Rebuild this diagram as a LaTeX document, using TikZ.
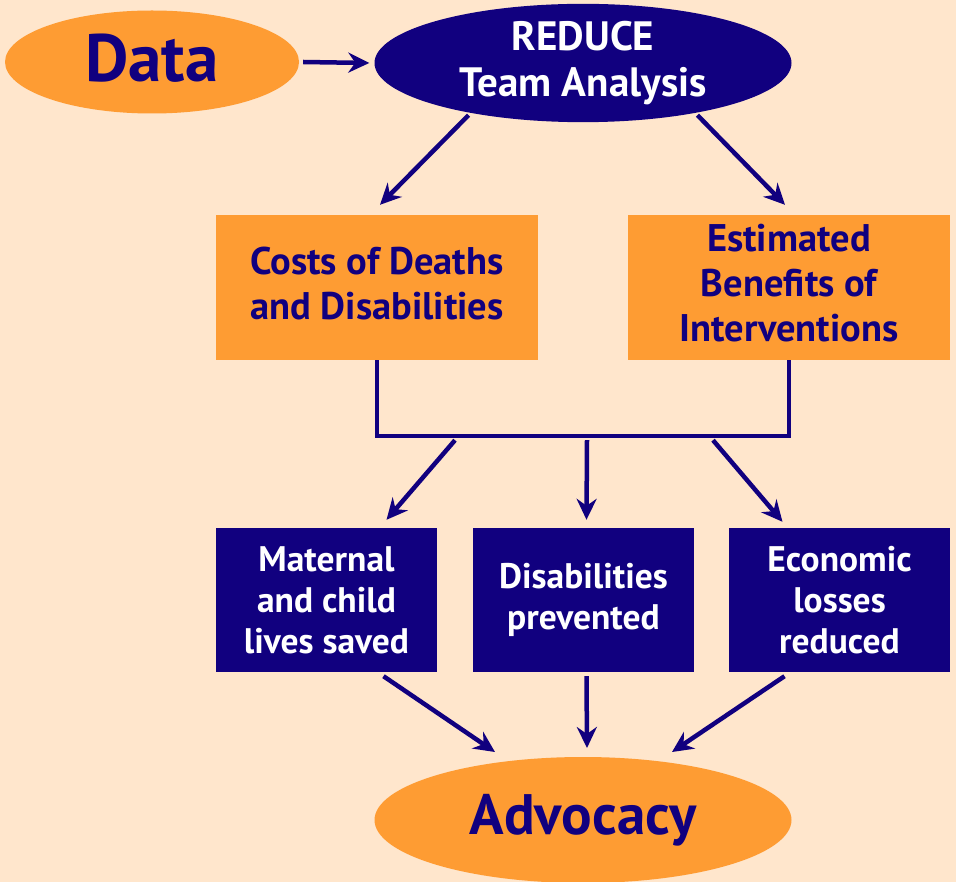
\documentclass[tikz,border=0pt]{standalone}
\usepackage{fontspec}
\setmainfont{PT Sans}
\usetikzlibrary{arrows.meta,shapes.geometric,calc}
\definecolor{bg}{HTML}{FFE6CC}
\definecolor{org}{HTML}{FE9C33}
\definecolor{navy}{HTML}{11007F}
\begin{document}
\begin{tikzpicture}[x=1pt,y=-1pt,
  arr/.style={draw=navy, line width=4.5pt, -{Stealth[length=21pt,width=20pt,inset=7pt]}},
  link/.style={draw=navy, line width=4.5pt},
  oell/.style={ellipse, fill=org, text=navy, inner sep=0pt, align=center},
  nell/.style={ellipse, fill=navy, text=white, inner sep=0pt, align=center},
  obox/.style={rectangle, fill=org, text=navy, inner sep=0pt, align=center,
    minimum width=322pt, minimum height=145pt, text depth=9pt, font=\fontsize{38.5}{45}\selectfont\bfseries},
  nbox/.style={rectangle, fill=navy, text=white, inner sep=0pt, align=center,
    minimum width=221pt, minimum height=144pt, font=\fontsize{35.5}{41}\selectfont\bfseries}
]
\fill[bg] (0,0) rectangle (956,882);
\useasboundingbox (0,0) rectangle (956,882);

\node[oell, minimum width=294pt, minimum height=103pt, text depth=9pt, font=\fontsize{67}{67}\selectfont\bfseries] (data) at (152,62) {Data};
\node[nell, minimum width=417pt, minimum height=113pt, font=\fontsize{41}{46}\selectfont\bfseries] (reduce) at (583,63) {REDUCE\\Team Analysis};

\node[obox] (costs) at (377,287.5) {Costs of Deaths\\and Disabilities};
\node[obox] (est) at (789,287.5) {Estimated\\Benefits of\\Interventions};

\node[nbox] (mat) at (326.5,600) {Maternal\\and child\\lives saved};
\node[nbox] (dis) at (583.5,600) {Disabilities\\prevented};
\node[nbox] (eco) at (839.5,600) {Economic\\losses\\reduced};

\node[oell, minimum width=417pt, minimum height=126pt, font=\fontsize{57}{57}\selectfont\bfseries] (adv) at (583,820) {Advocacy};

\draw[arr] ([xshift=4pt]data.east) -- ([xshift=-5pt]reduce.west);
\draw[arr, shorten <=3pt] (reduce.204) -- ([xshift=3pt,yshift=10pt]costs.north);
\draw[arr, shorten <=3pt] (reduce.336) -- ([xshift=-4pt,yshift=10pt]est.north);

\draw[link] (costs.south) -- ++(0,76) coordinate (bl) -| (est.south);

\draw[arr] ($(bl)+(78,4)$) -- ([xshift=60pt,yshift=8pt]mat.north);
\draw[arr] ($(bl)+(210,4)$) -- ([xshift=3pt,yshift=8pt]dis.north);
\draw[arr] ($(bl)+(336,4)$) -- ([xshift=-57pt,yshift=6pt]eco.north);

\draw[arr] ([xshift=57pt,yshift=-4pt]mat.south) -- ($(adv.center)+(-88,-68)$);
\draw[arr] ([xshift=3pt,yshift=-4pt]dis.south) -- ($(adv.center)+(4,-72)$);
\draw[arr] ([xshift=-55pt,yshift=-4pt]eco.south) -- ($(adv.center)+(89,-68)$);
\end{tikzpicture}
\end{document}
